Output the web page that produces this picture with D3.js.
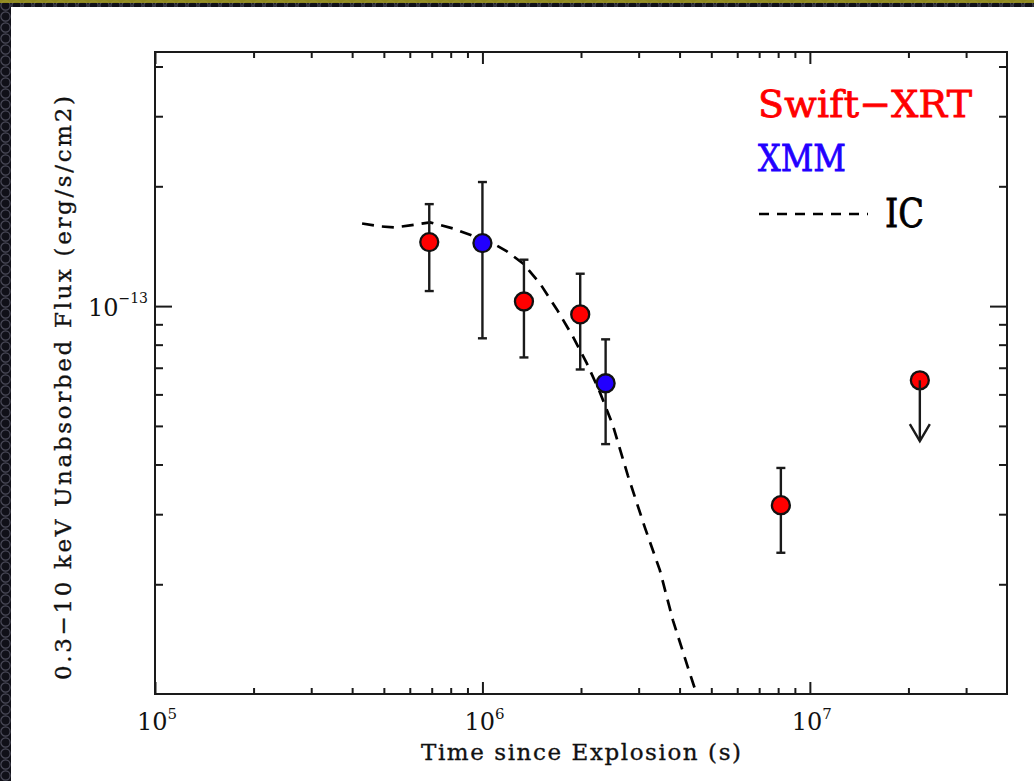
<!DOCTYPE html>
<html>
<head>
<meta charset="utf-8">
<script src="https://cdn.jsdelivr.net/npm/d3@7"></script>
<style>
  html, body { margin: 0; padding: 0; background: #0e0e14; }
  svg { display: block; }
  text { font-family: "DejaVu Serif", "Liberation Serif", serif; fill: #111; }
</style>
</head>
<body>
<svg id="chart" width="1034" height="781"></svg>
<script>
// Swift-XRT detections (time since explosion in s, unabsorbed 0.3-10 keV flux in erg/s/cm2)
const swiftTime   = [6.88e5, 1.339e6, 1.989e6, 8.155e6];
const swiftFlux   = [1.448e-13, 1.027e-13, 9.53e-14, 3.16e-14];
const swiftFluxHi = [1.804e-13, 1.308e-13, 1.206e-13, 3.92e-14];
const swiftFluxLo = [1.091e-13, 7.43e-14, 6.93e-14, 2.40e-14];

// XMM-Newton detections
const xmmTime   = [1.0e6, 2.378e6];
const xmmFlux   = [1.44e-13, 6.40e-14];
const xmmFluxHi = [2.05e-13, 8.25e-14];
const xmmFluxLo = [8.30e-14, 4.50e-14];

// Swift-XRT upper limit (arrow drawn down to limitArrowEnd)
const limitTime     = [2.167e7];
const limitFlux     = [6.51e-14];
const limitArrowEnd = [4.58e-14];

// Inverse Compton model light curve
const icTime = [4.29e5, 4.86e5, 5.40e5, 6.01e5, 6.92e5, 8.13e5, 9.62e5, 1.077e6, 1.188e6,
                1.330e6, 1.499e6, 1.688e6, 1.888e6, 2.084e6, 2.285e6, 2.502e6, 2.781e6,
                3.133e6, 3.482e6, 3.818e6, 4.241e6, 4.516e6, 4.75e6];
const icFlux = [1.613e-13, 1.586e-13, 1.577e-13, 1.595e-13, 1.623e-13, 1.567e-13, 1.488e-13,
                1.437e-13, 1.372e-13, 1.280e-13, 1.140e-13, 9.81e-14, 8.39e-14, 7.18e-14,
                6.07e-14, 5.02e-14, 3.75e-14, 2.78e-14, 2.17e-14, 1.623e-14, 1.237e-14,
                1.056e-14, 0.90e-14];

// Axis ticks
const xMajorTicks = [1e5, 1e6, 1e7];
const xTickExponents = ["5", "6", "7"];
const xMinorTicks = [2e5, 3e5, 4e5, 5e5, 6e5, 7e5, 8e5, 9e5,
                     2e6, 3e6, 4e6, 5e6, 6e6, 7e6, 8e6, 9e6, 2e7, 3e7];
const yMajorTicks = [1e-13];
const yTickExponents = ["\u221213"];
const yMinorTicks = [2e-14, 3e-14, 4e-14, 5e-14, 6e-14, 7e-14, 8e-14, 9e-14, 2e-13, 3e-13, 4e-13];

// Legend entries
const legendLabels = ["Swift\u2212XRT", "XMM", "IC"];
const legendColors = ["#ff0000", "#2200ff", "#000000"];

const xAxisTitle = "Time since Explosion (s)";
const yAxisTitle = "0.3\u221210 keV Unabsorbed Flux (erg/s/cm2)";

const W = 1034, H = 781;
const plot = { left: 155, right: 1007, top: 52, bottom: 694 };

const svg = d3.select("#chart");

// Dark patterned surround with a white page
const defs = svg.append("defs");
const pat = defs.append("pattern").attr("id", "dots")
  .attr("width", 11).attr("height", 11).attr("patternUnits", "userSpaceOnUse");
pat.append("rect").attr("width", 11).attr("height", 11).attr("fill", "#101018");
pat.append("circle").attr("cx", 5.5).attr("cy", 5.5).attr("r", 4.6)
  .attr("fill", "none").attr("stroke", "#4a4a58").attr("stroke-width", 1.2);
svg.append("rect").attr("width", W).attr("height", H).attr("fill", "url(#dots)");
svg.append("rect").attr("x", 0).attr("y", 0).attr("width", W).attr("height", 3)
  .attr("fill", "#a49d22").attr("opacity", 0.85);
svg.append("rect").attr("x", 11).attr("y", 7).attr("width", W - 11).attr("height", H - 7)
  .attr("fill", "#ffffff");

defs.append("clipPath").attr("id", "plotClip").append("rect")
  .attr("x", plot.left).attr("y", plot.top)
  .attr("width", plot.right - plot.left).attr("height", plot.bottom - plot.top);

const x = d3.scaleLog().domain([1e5, 4e7]).range([plot.left, plot.right]);
const y = d3.scaleLog().domain([1.06e-14, 4.35e-13]).range([plot.bottom, plot.top]);

const axisColor = "#1a1a1a";

function styleAxis(g) {
  g.select(".domain").remove();
  g.selectAll(".tick line").attr("stroke", axisColor).attr("stroke-width", 2);
  g.selectAll(".tick text").remove();
}

// Inward ticks on all four sides
const xMajLen = 12, xMinLen = 6, yMajLen = 17, yMinLen = 8;
svg.append("g").attr("transform", `translate(0,${plot.bottom})`)
  .call(d3.axisBottom(x).tickValues(xMajorTicks).tickSize(-xMajLen)).call(styleAxis);
svg.append("g").attr("transform", `translate(0,${plot.bottom})`)
  .call(d3.axisBottom(x).tickValues(xMinorTicks).tickSize(-xMinLen)).call(styleAxis);
svg.append("g").attr("transform", `translate(0,${plot.top})`)
  .call(d3.axisTop(x).tickValues(xMajorTicks).tickSize(-xMajLen)).call(styleAxis);
svg.append("g").attr("transform", `translate(0,${plot.top})`)
  .call(d3.axisTop(x).tickValues(xMinorTicks).tickSize(-xMinLen)).call(styleAxis);
svg.append("g").attr("transform", `translate(${plot.left},0)`)
  .call(d3.axisLeft(y).tickValues(yMajorTicks).tickSize(-yMajLen)).call(styleAxis);
svg.append("g").attr("transform", `translate(${plot.left},0)`)
  .call(d3.axisLeft(y).tickValues(yMinorTicks).tickSize(-yMinLen)).call(styleAxis);
svg.append("g").attr("transform", `translate(${plot.right},0)`)
  .call(d3.axisRight(y).tickValues(yMajorTicks).tickSize(-yMajLen)).call(styleAxis);
svg.append("g").attr("transform", `translate(${plot.right},0)`)
  .call(d3.axisRight(y).tickValues(yMinorTicks).tickSize(-yMinLen)).call(styleAxis);

// Frame
svg.append("rect")
  .attr("x", plot.left).attr("y", plot.top)
  .attr("width", plot.right - plot.left).attr("height", plot.bottom - plot.top)
  .attr("fill", "none").attr("stroke", axisColor).attr("stroke-width", 2);

// Tick labels as powers of ten
xMajorTicks.forEach((v, i) => {
  const t = svg.append("text").attr("x", x(v) + 2).attr("y", plot.bottom + 36)
    .attr("text-anchor", "middle").style("font-size", "24px");
  t.append("tspan").text("10");
  t.append("tspan").attr("dy", -11).style("font-size", "15px").text(xTickExponents[i]);
});
yMajorTicks.forEach((v, i) => {
  const t = svg.append("text").attr("x", plot.left - 7).attr("y", y(v) + 10)
    .attr("text-anchor", "end").style("font-size", "24px");
  t.append("tspan").text("10");
  t.append("tspan").attr("dy", -13).style("font-size", "14px").text(yTickExponents[i]);
});

// Axis titles
svg.append("text").attr("x", (plot.left + plot.right) / 2).attr("y", 760)
  .attr("text-anchor", "middle").style("font-size", "23px")
  .style("stroke", "#111").style("stroke-width", 0.35)
  .attr("textLength", 320).attr("lengthAdjust", "spacing")
  .text(xAxisTitle);
svg.append("text")
  .attr("transform", `translate(71,${(plot.top + plot.bottom) / 2 + 15}) rotate(-90)`)
  .attr("text-anchor", "middle").style("font-size", "23px")
  .style("stroke", "#111").style("stroke-width", 0.35)
  .attr("textLength", 584).attr("lengthAdjust", "spacing")
  .text(yAxisTitle);

// IC model curve
const icLine = d3.line().x(d => x(d[0])).y(d => y(d[1]));
svg.append("path")
  .datum(d3.zip(icTime, icFlux))
  .attr("clip-path", "url(#plotClip)")
  .attr("d", icLine)
  .attr("fill", "none").attr("stroke", "#000").attr("stroke-width", 2.7)
  .attr("stroke-dasharray", "12,8");

// Error bars
function errorBars(times, hi, lo) {
  const g = svg.append("g").attr("stroke", "#1a1a1a").attr("stroke-width", 2.4);
  times.forEach((t, i) => {
    const cx = x(t);
    g.append("line").attr("x1", cx).attr("x2", cx).attr("y1", y(hi[i])).attr("y2", y(lo[i]));
    g.append("line").attr("x1", cx - 4.5).attr("x2", cx + 4.5).attr("y1", y(hi[i])).attr("y2", y(hi[i]));
    g.append("line").attr("x1", cx - 4.5).attr("x2", cx + 4.5).attr("y1", y(lo[i])).attr("y2", y(lo[i]));
  });
}
errorBars(swiftTime, swiftFluxHi, swiftFluxLo);
errorBars(xmmTime, xmmFluxHi, xmmFluxLo);

// Markers
function markers(times, flux, color) {
  svg.append("g").selectAll("circle").data(d3.zip(times, flux)).join("circle")
    .attr("cx", d => x(d[0])).attr("cy", d => y(d[1])).attr("r", 9)
    .attr("fill", color).attr("stroke", "#111").attr("stroke-width", 2.3);
}
markers(swiftTime, swiftFlux, legendColors[0]);
markers(xmmTime, xmmFlux, legendColors[1]);
markers(limitTime, limitFlux, legendColors[0]);

// Upper-limit arrow
const arrowG = svg.append("g").attr("stroke", "#1a1a1a").attr("stroke-width", 2.4)
  .attr("fill", "none");
limitTime.forEach((t, i) => {
  const cx = x(t), y0 = y(limitFlux[i]), y1 = y(limitArrowEnd[i]);
  arrowG.append("line").attr("x1", cx).attr("x2", cx).attr("y1", y0).attr("y2", y1);
  arrowG.append("path")
    .attr("d", `M${cx - 10},${y1 - 17}L${cx},${y1}L${cx + 10},${y1 - 17}`);
});

// Legend
const legendX = 758;
svg.append("text").attr("x", legendX).attr("y", 117)
  .style("font-size", "38px").style("fill", legendColors[0])
  .style("stroke", legendColors[0]).style("stroke-width", 0.8)
  .attr("textLength", 214).attr("lengthAdjust", "spacing")
  .text(legendLabels[0]);
svg.append("text").attr("x", legendX).attr("y", 171)
  .style("font-size", "38px").style("fill", legendColors[1])
  .style("stroke", legendColors[1]).style("stroke-width", 0.8)
  .attr("textLength", 88).attr("lengthAdjust", "spacingAndGlyphs")
  .text(legendLabels[1]);
svg.append("line").attr("x1", legendX + 1).attr("x2", 868).attr("y1", 214).attr("y2", 214)
  .attr("stroke", "#000").attr("stroke-width", 2.6).attr("stroke-dasharray", "10,8");
svg.append("text").attr("x", 885).attr("y", 227)
  .style("font-size", "40px").style("fill", legendColors[2])
  .style("stroke", legendColors[2]).style("stroke-width", 0.8)
  .attr("textLength", 39).attr("lengthAdjust", "spacingAndGlyphs")
  .text(legendLabels[2]);
</script>
</body>
</html>
